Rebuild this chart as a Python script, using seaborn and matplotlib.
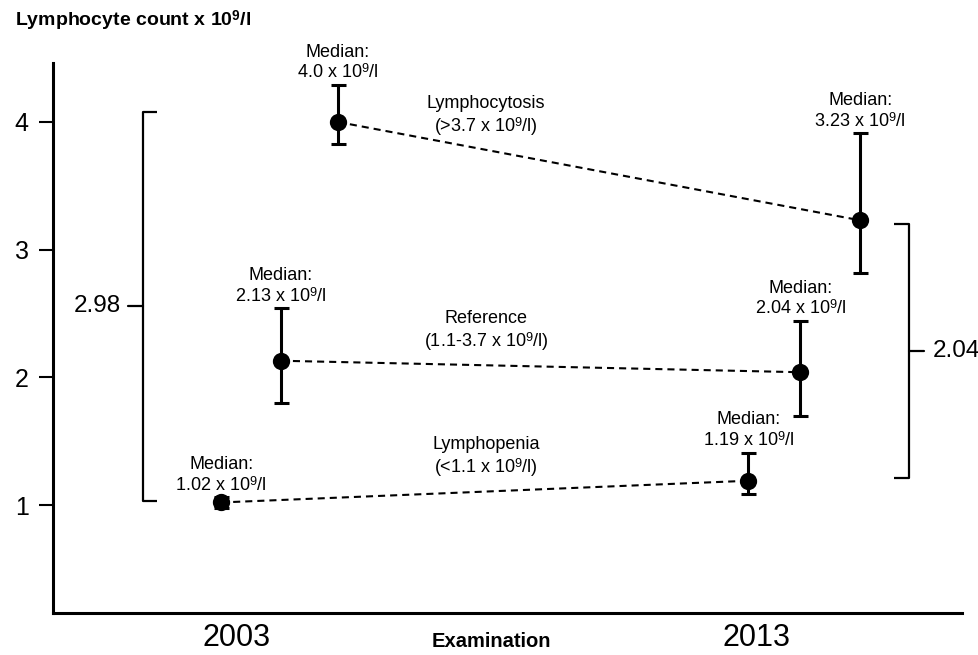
import numpy as np
import pandas as pd
import matplotlib
matplotlib.use('Agg')
import matplotlib.pyplot as plt
import seaborn as sns

# lymphocyte counts (x 10^9/l)
categories = ['Lymphopenia', 'Reference', 'Lymphocytosis']
ranges = ['(<1.1 x 10$^9$/l)', '(1.1-3.7 x 10$^9$/l)', '(>3.7 x 10$^9$/l)']
years = ['2003', '2013']

median_2003 = [1.02, 2.13, 4.0]
low_2003 = [0.98, 1.80, 3.83]
high_2003 = [1.06, 2.54, 4.29]
label_2003 = ['1.02', '2.13', '4.0']

median_2013 = [1.19, 2.04, 3.23]
low_2013 = [1.09, 1.70, 2.82]
high_2013 = [1.41, 2.44, 3.91]
label_2013 = ['1.19', '2.04', '3.23']

# extent of the brackets next to each examination
bracket_2003 = (1.03, 4.08)
bracket_2013 = (1.21, 3.20)

# horizontal placement of each category around its examination
offsets_2003 = [-0.03, 0.085, 0.195]
offsets_2013 = [0.985, 1.085, 1.2]

sns.set_style('ticks')
plt.rcParams['font.family'] = ['Liberation Sans', 'DejaVu Sans']
plt.rcParams['mathtext.fontset'] = 'custom'
plt.rcParams['mathtext.rm'] = 'Liberation Sans'
plt.rcParams['mathtext.it'] = 'Liberation Sans:italic'
plt.rcParams['mathtext.bf'] = 'Liberation Sans:bold'
for key in ['text.color', 'axes.labelcolor', 'xtick.color', 'ytick.color', 'axes.edgecolor']:
    plt.rcParams[key] = 'black'

# superscripts sit a little lower in the original
try:
    from matplotlib import _mathtext
    _mathtext.FontConstantsBase.sup1 = 0.5
    _mathtext.FontConstantsBase.script_space = 0.02
except Exception:
    pass

rows = []
for i, cat in enumerate(categories):
    rows.append({'Category': cat, 'Year': years[0], 'x': offsets_2003[i], 'Median': median_2003[i],
                 'Low': low_2003[i], 'High': high_2003[i], 'Label': label_2003[i]})
    rows.append({'Category': cat, 'Year': years[1], 'x': offsets_2013[i], 'Median': median_2013[i],
                 'Low': low_2013[i], 'High': high_2013[i], 'Label': label_2013[i]})
df = pd.DataFrame(rows)

fig = plt.figure(figsize=(9.79, 6.55), dpi=100)
ax = fig.add_axes([0.0541, 0.0641, 0.9285, 0.8397])

# dashed connectors between the two examinations
for cat in categories:
    sub = df[df['Category'] == cat]
    sns.lineplot(data=sub, x='x', y='Median', ax=ax, color='black', lw=1.5,
                 linestyle=(0, (3.4, 2.4)), zorder=2, legend=False)

ax.errorbar(df['x'], df['Median'],
            yerr=[df['Median'] - df['Low'], df['High'] - df['Median']],
            fmt='none', ecolor='black', elinewidth=2.2, capsize=5.4, capthick=2.2, zorder=3)
sns.scatterplot(data=df, x='x', y='Median', ax=ax, color='black', s=155,
                edgecolor='black', linewidth=0, zorder=4, legend=False)

# median labels above each error bar
for _, r in df.iterrows():
    ax.annotate('Median:\n' + r['Label'] + ' x 10$^9$/l', (r['x'], r['High']),
                xytext=(0, 2), textcoords='offset points', ha='center', va='bottom',
                fontsize=13, linespacing=1.25)

# category names above the connectors
for i, cat in enumerate(categories):
    xm = 0.48
    ym = np.interp(xm, [offsets_2003[i], offsets_2013[i]], [median_2003[i], median_2013[i]])
    ax.annotate(cat + '\n' + ranges[i], (xm, ym), xytext=(0, 13), textcoords='offset points',
                ha='center', va='baseline', fontsize=13, linespacing=1.25)


def bracket(ax, x, y0, y1, hook, tick):
    ym = (y0 + y1) / 2
    ax.plot([x + hook, x, x, x + hook], [y1, y1, y0, y0], color='black', lw=1.6,
            solid_joinstyle='round', solid_capstyle='butt', clip_on=False)
    ax.plot([x, x + tick], [ym, ym], color='black', lw=1.6, clip_on=False)
    return ym


ym = bracket(ax, -0.180, bracket_2003[0], bracket_2003[1], 0.026, -0.029)
ax.text(-0.269, ym, f'{max(median_2003) - min(median_2003):.2f}', ha='center', va='center', fontsize=17.5)
ym = bracket(ax, 1.294, bracket_2013[0], bracket_2013[1], -0.029, 0.029)
ax.text(1.339, ym, f'{max(median_2013) - min(median_2013):.2f}', ha='left', va='center', fontsize=17.5)

ax.set_xlim(-0.3536, 1.396)
ax.set_ylim(0.154, 4.462)
ax.set_xticks([0, 1], years)
ax.set_yticks([1, 2, 3, 4])
ax.tick_params(axis='x', length=0, labelsize=22, pad=7)
ax.tick_params(axis='y', length=10.4, width=1.5, labelsize=18, pad=7, color='black')
ax.set_xlabel('')
ax.set_ylabel('')
sns.despine(ax=ax)
for side in ['left', 'bottom']:
    ax.spines[side].set_linewidth(2.2)
    ax.spines[side].set_color('black')

fig.text(15 / 979, 1 - 25 / 655, 'Lymphocyte count x 10$^{\\mathbf{9}}$/l', fontsize=14,
         fontweight='bold', ha='left', va='baseline')
fig.text(491 / 979, 1 - 647 / 655, 'Examination', fontsize=14.5, fontweight='bold',
         ha='center', va='baseline')

fig.savefig('out.png', dpi=100)
